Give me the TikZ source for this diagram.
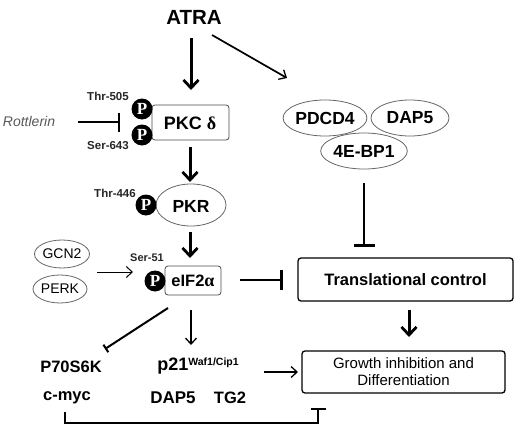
\documentclass[tikz,border=0pt]{standalone}
\usepackage{fontspec}
\setmainfont{Liberation Sans}
\newfontfamily\serifgr{Liberation Serif}
\usetikzlibrary{arrows.meta,shapes.geometric}
\tikzset{
  x=1pt,y=-1pt,
  prot/.style={font=\bfseries\fontsize{16.5}{18}\selectfont,inner sep=0pt},
  site/.style={font=\bfseries\fontsize{11.5}{12}\selectfont,inner sep=0pt,text=black!85},
  phos/.style={circle,fill=black,text=white,minimum size=21pt,inner sep=0pt,font=\serifgr\bfseries\fontsize{17}{17}\selectfont},
  oval/.style={ellipse,draw=black!60,line width=0.8pt,fill=white,inner sep=0pt},
  rbox/.style={draw=black,rounded corners=3pt,fill=white,inner sep=0pt},
  act/.style={-{Straight Barb[length=8pt,width=15pt,line width=2.8pt]},line width=3pt},
  actthin/.style={-{Straight Barb[length=6pt,width=11pt,line width=1.3pt]},line width=1.4pt},
  inh/.style={-{Bar[width=20pt,line width=2.8pt]},line width=2.8pt},
}
\begin{document}
\begin{tikzpicture}
\useasboundingbox (0,0) rectangle (520,431);
\node[font=\bfseries\fontsize{20.5}{22}\selectfont,inner sep=0pt] (atra) at (194,17) {ATRA};
% PKC
\node[rbox,draw=black!70,line width=0.8pt,minimum width=77pt,minimum height=35pt] (pkc) at (190.5,122.5) {};
\node[prot,font=\bfseries\fontsize{18}{20}\selectfont] (pkct) at (190,123) {PKC \serifgr δ};
\node[phos] (p1) at (142,109) {P};
\node[phos] (p2) at (142,135) {P};
\node[site] (thr5) at (108,96) {Thr-505};
\node[site] (ser6) at (108,146) {Ser-643};
\node[font=\itshape\fontsize{14}{16}\selectfont,text=black!65,inner sep=0pt] (rot) at (29,121) {Rottlerin};
\coordinate (rs) at (78,122); \coordinate (re) at (120,122);
\draw[inh,-{Bar[width=19pt,line width=2.2pt]}] (rs) -- (re);
% PKR
\node[oval,minimum width=70pt,minimum height=42pt] (pkr) at (191,205) {};
\node[prot,font=\bfseries\fontsize{17.5}{19}\selectfont] (pkrt) at (191,206) {PKR};
\node[phos] (p3) at (146,205) {P};
\node[site] (thr4) at (115,193) {Thr-446};
% eIF2a
\node[rbox,draw=black!70,line width=0.8pt,minimum width=56pt,minimum height=29pt] (eif) at (193,280.5) {};
\node[font=\bfseries\fontsize{16.5}{18}\selectfont,inner sep=0pt] (eift) at (193,281) {eIF2{\serifgr\fontsize{18}{18}\selectfont α}};
\node[phos] (p4) at (155,281) {P};
\node[site,font=\bfseries\fontsize{11}{12}\selectfont] (ser5) at (147,258) {Ser-51};
% GCN2 PERK
\node[oval,minimum width=54pt,minimum height=28pt,font=\fontsize{14}{16}\selectfont] (gcn) at (62,254) {GCN2};
\node[oval,minimum width=54pt,minimum height=28pt,font=\fontsize{14}{16}\selectfont] (perk) at (60,289) {PERK};
\coordinate (ks) at (97,272); \coordinate (ke) at (133,272);
\draw[actthin,line width=1pt,-{Straight Barb[length=6pt,width=11pt,line width=1pt]}] (ks) -- (ke);
% right ovals
\node[oval,minimum width=78pt,minimum height=36pt,font=\bfseries\fontsize{17.5}{19}\selectfont] (pdcd) at (325,118) {PDCD4};
\node[oval,minimum width=78pt,minimum height=36pt,font=\bfseries\fontsize{17.5}{19}\selectfont] (dap) at (410,118) {DAP5};
\node[oval,minimum width=77pt,minimum height=36pt,font=\bfseries\fontsize{17.5}{19}\selectfont] (bp) at (364,151) {4E-BP1};
% boxes
\node[rbox,line width=1.3pt,minimum width=215pt,minimum height=43pt,font=\bfseries\fontsize{16.5}{18}\selectfont] (tc) at (405.5,279.5) {Translational control};
\node[rbox,line width=1.3pt,minimum width=203pt,minimum height=42pt,align=center,font=\fontsize{15}{17}\selectfont] (gi) at (403.5,372) {Growth inhibition and\\Differentiation};
% lower labels
\node[prot] (p70) at (71,367) {P70S6K};
\node[prot,font=\bfseries\fontsize{18}{20}\selectfont] (p21) at (198,366) {p21\raisebox{5pt}{\fontsize{10.5}{11}\selectfont Waf1/Cip1}};
\node[prot] (myc) at (67,398) {c-myc};
\node[prot,font=\bfseries\fontsize{17}{19}\selectfont] (dap2) at (173,398) {DAP5};
\node[prot] (tg) at (230,398) {TG2};
% connectors
\coordinate (a1s) at (191,38); \coordinate (a1e) at (191,90);
\draw[act] (a1s) -- (a1e);
\coordinate (a2s) at (212,35); \coordinate (a2e) at (287,78);
\draw[actthin,line width=1.7pt] (a2s) -- (a2e);
\coordinate (a3s) at (190,147); \coordinate (a3e) at (190,182);
\draw[act] (a3s) -- (a3e);
\coordinate (a4s) at (190,232); \coordinate (a4e) at (190,258);
\draw[act] (a4s) -- (a4e);
\coordinate (b1s) at (168,308); \coordinate (b1e) at (105,349);
\draw[line width=2pt,-{Bar[width=9pt,line width=2pt]}] (b1s) -- (b1e);
\coordinate (a5s) at (191,310); \coordinate (a5e) at (191,345);
\draw[actthin,line width=1.9pt] (a5s) -- (a5e);
\coordinate (b2s) at (240,280); \coordinate (b2e) at (283,280);
\draw[inh] (b2s) -- (b2e);
\coordinate (b3s) at (364,183); \coordinate (b3e) at (364,247);
\draw[inh,-{Bar[width=21pt,line width=2.8pt]}] (b3s) -- (b3e);
\coordinate (a6s) at (409,310); \coordinate (a6e) at (409,337);
\draw[act] (a6s) -- (a6e);
\coordinate (a7s) at (264,372); \coordinate (a7e) at (298,372);
\draw[actthin,line width=1.6pt] (a7s) -- (a7e);
\coordinate (c1) at (65,412); \coordinate (c2) at (318,408);
\draw[line width=2pt,-{Bar[width=15pt,line width=2.2pt]}] (c1) -- (65,423) -- (318,423) -- (c2);
\end{tikzpicture}
\end{document}
